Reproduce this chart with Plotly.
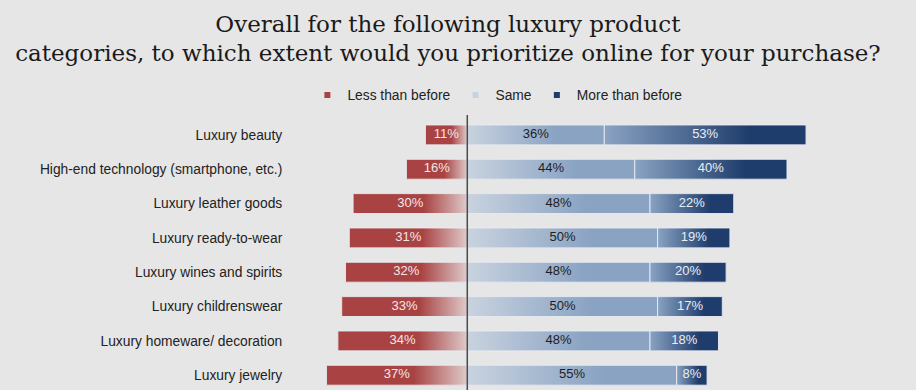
import plotly.graph_objects as go

# ---- data ----
categories = [
    "Luxury beauty",
    "High-end technology (smartphone, etc.)",
    "Luxury leather goods",
    "Luxury ready-to-wear",
    "Luxury wines and spirits",
    "Luxury childrenswear",
    "Luxury homeware/ decoration",
    "Luxury jewelry",
]
less_than_before = [11, 16, 30, 31, 32, 33, 34, 37]
same = [36, 44, 48, 50, 48, 50, 48, 55]
more_than_before = [53, 40, 22, 19, 20, 17, 18, 8]
series_names = ["Less than before", "Same", "More than before"]

# ---- style ----
BG = "#e6e6e6"
RED = "#a94343"
RED_LIGHT = "#dfcaca"
SAME_LIGHT = "#c9d3df"
SAME_MID = "#8aa3c3"
DARK = "#1f3d6c"
OUTLINE = "rgba(232,235,240,0.95)"
BAR_W = 0.58
FONT = "Liberation Sans, Arial, sans-serif"

idx = list(range(len(categories)))
h = BAR_W / 2

fig = go.Figure()

# base bars (data drawn through the axes)
red_x = [-v for v in less_than_before]
fig.add_trace(go.Bar(y=idx, x=red_x, base=0, orientation="h", width=BAR_W,
                     marker=dict(color=RED), name=series_names[0], showlegend=False))
fig.add_trace(go.Bar(y=idx, x=same, base=0, orientation="h", width=BAR_W,
                     marker=dict(color=SAME_MID), name=series_names[1], showlegend=False))
fig.add_trace(go.Bar(y=idx, x=more_than_before, base=same, orientation="h", width=BAR_W,
                     marker=dict(color=DARK), name=series_names[2], showlegend=False))

# gradient skins over each bar segment
segments = []
for i in idx:
    segments.append((i, -less_than_before[i], 0,
                     [[0, RED], [0.62, RED], [1, RED_LIGHT]]))
    segments.append((i, 0, same[i],
                     [[0, SAME_LIGHT], [0.65, SAME_MID], [1, SAME_MID]]))
    segments.append((i, same[i], same[i] + more_than_before[i],
                     [[0, SAME_MID], [0.72, DARK], [1, DARK]]))

for (i, x0, x1, cs) in segments:
    fig.add_trace(go.Scatter(
        x=[x0, x1, x1, x0, x0],
        y=[i - h, i - h, i + h, i + h, i - h],
        mode="lines", fill="toself",
        line=dict(color=OUTLINE, width=1),
        fillgradient=dict(type="horizontal", colorscale=cs, start=x0, stop=x1),
        hoverinfo="skip", showlegend=False,
    ))

# value labels
fig.add_trace(go.Scatter(
    x=[-v / 2 for v in less_than_before], y=idx, mode="text",
    text=[f"{v}%" for v in less_than_before],
    textfont=dict(family=FONT, size=13, color="#f3e6e6"),
    hoverinfo="skip", showlegend=False))
fig.add_trace(go.Scatter(
    x=[v / 2 for v in same], y=idx, mode="text",
    text=[f"{v}%" for v in same],
    textfont=dict(family=FONT, size=13, color="#1e1e1e"),
    hoverinfo="skip", showlegend=False))
fig.add_trace(go.Scatter(
    x=[s + m / 2 for s, m in zip(same, more_than_before)], y=idx, mode="text",
    text=[f"{v}%" for v in more_than_before],
    textfont=dict(family=FONT, size=13, color="#e8edf4"),
    hoverinfo="skip", showlegend=False))

# legend entries
for name, col in zip(series_names, [RED, SAME_LIGHT, DARK]):
    fig.add_trace(go.Scatter(x=[None], y=[None], mode="markers", name=name,
                             marker=dict(symbol="square", size=6, color=col)))

fig.update_layout(
    width=916, height=390,
    paper_bgcolor=BG, plot_bgcolor=BG,
    barmode="overlay",
    margin=dict(l=296, r=11, t=115, b=0),
    font=dict(family=FONT, size=13.8, color="#222222"),
    title=dict(
        text="Overall for the following luxury product<br>categories, to which extent would you prioritize online for your purchase?",
        font=dict(family="DejaVu Serif, serif", size=23, color="#1a1a1a"),
        x=0.489, xanchor="center", xref="container",
        y=1 - 31.5 / 390, yanchor="middle", yref="container",
    ),
    legend=dict(
        orientation="h", xref="container", yref="container",
        x=0.543, xanchor="center", y=1 - 95 / 390, yanchor="middle",
        font=dict(family=FONT, size=13.8, color="#222222"),
        bgcolor="rgba(0,0,0,0)", itemwidth=30,
    ),
    xaxis=dict(range=[-45, 115], showgrid=False, zeroline=False,
               showticklabels=False, ticks="", fixedrange=True),
    yaxis=dict(range=[7.43, -0.58], tickvals=idx, ticktext=categories,
               showgrid=False, zeroline=False, ticks="outside", ticklen=10,
               tickcolor="rgba(0,0,0,0)", tickfont=dict(family=FONT, size=13.8, color="#222222"),
               fixedrange=True),
    shapes=[dict(type="line", xref="x", yref="paper", x0=0, x1=0, y0=0, y1=1,
                 line=dict(color="#4a4a4a", width=1.5), layer="above")],
    showlegend=True,
)

fig.write_html("out.html", config={"displayModeBar": False},
               post_script="document.body.style.margin='0';")
